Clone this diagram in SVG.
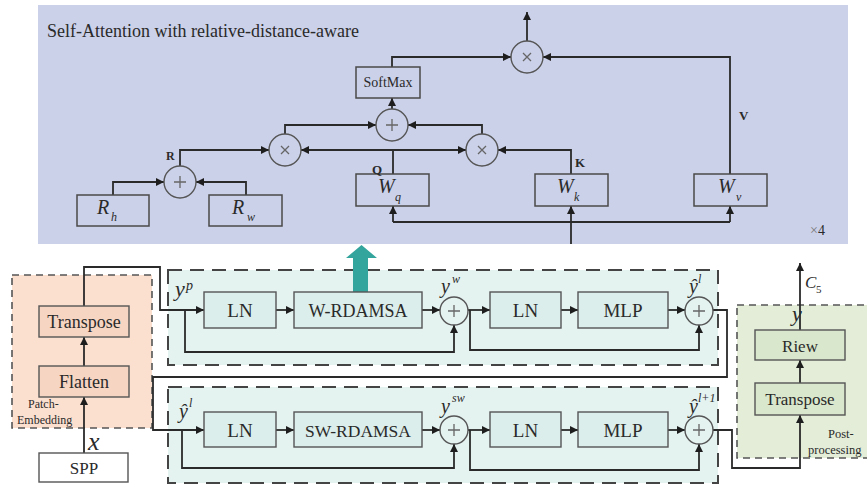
<svg xmlns="http://www.w3.org/2000/svg" width="867" height="484" viewBox="0 0 867 484" font-family="'Liberation Serif', 'Times New Roman', 'DejaVu Serif', serif">
<defs>
<marker id="ah" viewBox="0 0 10 10" refX="10" refY="5" markerWidth="9" markerHeight="8" orient="auto" markerUnits="userSpaceOnUse"><path d="M0,0 L10,5 L0,10 z" fill="#1e1e1e"/></marker>
<style>
text{font-family:'Liberation Serif','Times New Roman','DejaVu Serif',serif;fill:#2a2a2a}
.c{stroke:#2a2a2a;stroke-width:1.8;fill:none}
.ca{stroke:#2a2a2a;stroke-width:1.8;fill:none;marker-end:url(#ah)}
.tb{fill:#cbd1e9;stroke:#4a4a4a;stroke-width:1.5}
.tc{fill:#cbd1e9;stroke:#555;stroke-width:1.4}
.lb{fill:#dbeeeb;stroke:#555;stroke-width:1.4}
.lc{fill:#e4f2f0;stroke:#555;stroke-width:1.4}
.pb{fill:#f6d5c2;stroke:#555;stroke-width:1.4}
.gb{fill:#d9e7cc;stroke:#555;stroke-width:1.4}
.op{stroke:#666;stroke-width:1.3;fill:none}
.it{font-style:italic}
.bd{font-weight:bold}
.dash{stroke:#444;stroke-width:2;stroke-dasharray:14 8}
.dash2{stroke:#555;stroke-width:1.6;stroke-dasharray:7 5}
</style>
</defs>

<!-- panels -->
<g id="attention-panel">
<rect x="38" y="5" width="810" height="239" fill="#cbd1e9"/>
<text x="47" y="37" font-size="18">Self-Attention with relative-distance-aware</text>
<text x="810" y="235" font-size="14"><tspan fill="#777">×</tspan>4</text>
</g>
<g id="block1-panel"><rect x="168" y="270" width="550" height="95" fill="#e4f2f0" class="dash"/></g>
<g id="block2-panel"><rect x="168" y="387" width="550" height="96" fill="#e4f2f0" class="dash"/></g>
<g id="patch-embedding"><rect x="12" y="275" width="140" height="153" fill="#fbdfcf" class="dash2"/>
<text x="28" y="408" font-size="12">Patch-</text><text x="17" y="424" font-size="12">Embedding</text></g>
<g id="post-processing"><rect x="737" y="305" width="140" height="153" fill="#e3edd8" class="dash2"/>
<text x="828" y="438" font-size="12.5">Post-</text><text x="808" y="454" font-size="12.5">processing</text></g>

<!-- connectors -->
<g id="connectors">
<path class="ca" d="M113,195 V182 H164"/>
<path class="ca" d="M246,195 V182 H196"/>
<path class="ca" d="M180,166 V150 H269"/>
<path class="ca" d="M393,174 V150 H301"/>
<path class="ca" d="M393,150 H466"/>
<path class="ca" d="M571,174 V150 H498"/>
<path class="ca" d="M285,134 V125 H376"/>
<path class="ca" d="M482,134 V125 H408"/>
<path class="ca" d="M392,109 V98"/>
<path class="ca" d="M392,67 V57 H511"/>
<path class="ca" d="M730,174 V57 H543"/>
<path class="ca" d="M527,41 V12"/>
<path class="c" d="M393,222 H730"/>
<path class="ca" d="M393,222 V206"/>
<path class="ca" d="M730,222 V206"/>
<path class="ca" d="M571,244 V206"/>

<path class="ca" d="M84,453 V397"/>
<path class="ca" d="M84,366 V337"/>
<path class="ca" d="M84,306 V267 H160 V310 H204"/>
<path class="ca" d="M276,310 H294"/>
<path class="ca" d="M422,310 H440"/>
<path class="ca" d="M185,310 V352 H454 V325"/>
<path class="ca" d="M468,310 H490"/>
<path class="ca" d="M561,310 H578"/>
<path class="ca" d="M668,310 H685"/>
<path class="ca" d="M470,310 V350 H699 V325"/>
<path class="ca" d="M713,310 H727 V377 H153 V430 H204"/>
<path class="ca" d="M276,430 H294"/>
<path class="ca" d="M422,430 H440"/>
<path class="ca" d="M182,430 V468 H454 V444"/>
<path class="ca" d="M468,430 H490"/>
<path class="ca" d="M561,430 H578"/>
<path class="ca" d="M668,430 H685"/>
<path class="ca" d="M470,430 V470 H699 V444"/>
<path class="ca" d="M713,430 H732 V468 H800 V415"/>
<path class="ca" d="M800,383 V360"/>
<path class="ca" d="M800,330 V263"/>
<path d="M353,293 V258 H346 L361.5,245 L377,258 H368 V293 Z" fill="#33a59c"/>
</g>

<!-- top panel nodes -->
<g id="Rh"><rect class="tb" x="77" y="195" width="72" height="31"/><text class="it" x="97" y="214" font-size="20">R</text><text class="it" x="111" y="221" font-size="12">h</text></g>
<g id="Rw"><rect class="tb" x="209" y="195" width="73" height="31"/><text class="it" x="232" y="214" font-size="20">R</text><text class="it" x="247" y="221" font-size="12">w</text></g>
<g id="plusR"><circle class="tc" cx="180" cy="182" r="16"/><path class="op" d="M174,182 H186 M180,176 V188"/><text class="bd" x="166" y="160" font-size="12">R</text></g>
<g id="mul1"><circle class="tc" cx="285" cy="150" r="16"/><path class="op" d="M281,146 L289,154 M289,146 L281,154"/></g>
<g id="mul2"><circle class="tc" cx="482" cy="150" r="16"/><path class="op" d="M478,146 L486,154 M486,146 L478,154"/></g>
<g id="plusC"><circle class="tc" cx="392" cy="125" r="16"/><path class="op" d="M386,125 H398 M392,119 V131"/></g>
<g id="softmax"><rect class="tb" x="356" y="67" width="64" height="31"/><text x="388" y="87" font-size="14" text-anchor="middle">SoftMax</text></g>
<g id="mulTop"><circle class="tc" cx="527" cy="57" r="16"/><path class="op" d="M523,53 L531,61 M531,53 L523,61"/></g>
<g id="Wq"><rect class="tb" x="356" y="174" width="73" height="32"/><text class="it" x="378" y="193" font-size="20">W</text><text class="it" x="395" y="201" font-size="12">q</text><text class="bd" x="372" y="174" font-size="13">Q</text></g>
<g id="Wk"><rect class="tb" x="535" y="174" width="73" height="32"/><text class="it" x="557" y="193" font-size="20">W</text><text class="it" x="574" y="201" font-size="12">k</text><text class="bd" x="575" y="167" font-size="13">K</text></g>
<g id="Wv"><rect class="tb" x="694" y="174" width="73" height="32"/><text class="it" x="718" y="193" font-size="20">W</text><text class="it" x="736" y="201" font-size="12">v</text><text class="bd" x="739" y="120" font-size="13">V</text></g>

<!-- lower nodes -->
<g id="transpose1"><rect class="pb" x="39" y="306" width="90" height="31"/><text x="84" y="328" font-size="18" text-anchor="middle">Transpose</text></g>
<g id="flatten"><rect class="pb" x="39" y="366" width="90" height="31"/><text x="84" y="388" font-size="18" text-anchor="middle">Flatten</text></g>
<g id="spp"><rect x="39" y="453" width="89" height="29" fill="#fff" stroke="#555" stroke-width="1.4"/><text x="84" y="474" font-size="17" text-anchor="middle">SPP</text><text class="it" x="88" y="450" font-size="26">x</text></g>

<g id="ln1"><rect class="lb" x="204" y="292" width="72" height="36"/><text x="240" y="317" font-size="19" text-anchor="middle">LN</text></g>
<g id="wrdamsa"><rect class="lb" x="294" y="292" width="128" height="36"/><text x="358" y="317" font-size="18" text-anchor="middle">W-RDAMSA</text></g>
<g id="plus1"><circle class="lc" cx="454" cy="311" r="14"/><path class="op" d="M448,311 H460 M454,305 V317"/></g>
<g id="ln2"><rect class="lb" x="490" y="292" width="71" height="36"/><text x="525.5" y="317" font-size="19" text-anchor="middle">LN</text></g>
<g id="mlp1"><rect class="lb" x="578" y="292" width="90" height="36"/><text x="623" y="317" font-size="19" text-anchor="middle">MLP</text></g>
<g id="plus2"><circle class="lc" cx="699" cy="311" r="14"/><path class="op" d="M693,311 H705 M699,305 V317"/></g>

<g id="ln3"><rect class="lb" x="204" y="412" width="72" height="35"/><text x="240" y="437" font-size="19" text-anchor="middle">LN</text></g>
<g id="swrdamsa"><rect class="lb" x="294" y="412" width="128" height="35"/><text x="358" y="437" font-size="17.5" text-anchor="middle">SW-RDAMSA</text></g>
<g id="plus3"><circle class="lc" cx="454" cy="430" r="14"/><path class="op" d="M448,430 H460 M454,424 V436"/></g>
<g id="ln4"><rect class="lb" x="490" y="412" width="71" height="35"/><text x="525.5" y="437" font-size="19" text-anchor="middle">LN</text></g>
<g id="mlp2"><rect class="lb" x="578" y="412" width="90" height="35"/><text x="623" y="437" font-size="19" text-anchor="middle">MLP</text></g>
<g id="plus4"><circle class="lc" cx="699" cy="430" r="14"/><path class="op" d="M693,430 H705 M699,424 V436"/></g>

<g id="riew"><rect class="gb" x="755" y="330" width="90" height="30"/><text x="800" y="352" font-size="17" text-anchor="middle">Riew</text></g>
<g id="transpose2"><rect class="gb" x="755" y="383" width="90" height="32"/><text x="800" y="405" font-size="17" text-anchor="middle">Transpose</text></g>

<!-- variable labels -->
<g id="labels">
<text class="it" x="175" y="296" font-size="22">y</text><text class="it" x="186" y="290" font-size="14">p</text>
<text class="it" x="441" y="293" font-size="20">y</text><text class="it" x="452" y="283" font-size="12">w</text>
<text class="it" x="689" y="293" font-size="20">ŷ</text><text class="it" x="698" y="283" font-size="12">l</text>
<text class="it" x="179" y="418" font-size="20">ŷ</text><text class="it" x="189" y="407" font-size="12">l</text>
<text class="it" x="441" y="413" font-size="20">y</text><text class="it" x="452" y="402" font-size="12">sw</text>
<text class="it" x="689" y="413" font-size="20">ŷ</text><text class="it" x="698" y="402" font-size="12">l+1</text>
<text class="it" x="792" y="321" font-size="22">y</text>
<text class="it" x="805" y="288" font-size="17">C</text><text x="816" y="293" font-size="11">5</text>
</g>
</svg>
